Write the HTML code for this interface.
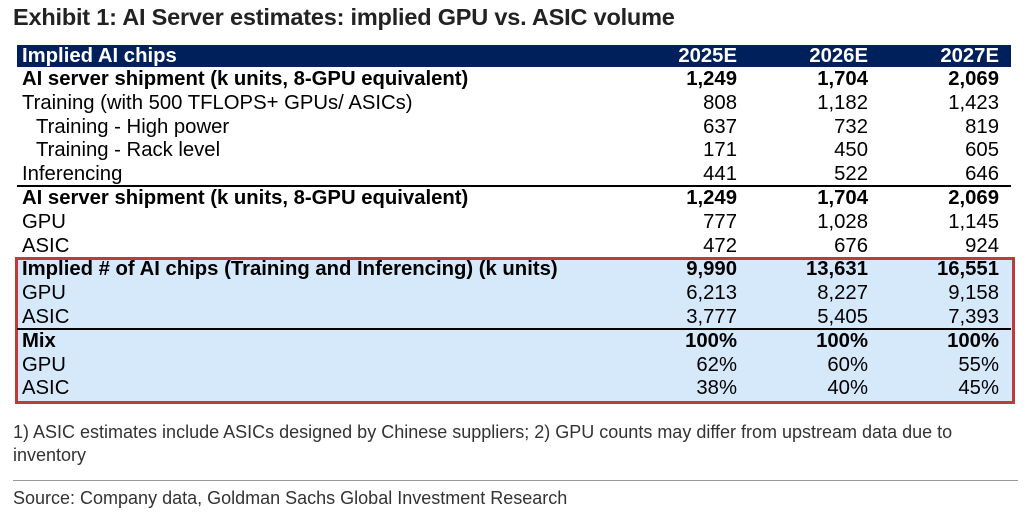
<!DOCTYPE html>
<html><head><meta charset="utf-8"><style>
body{margin:0;width:1031px;height:523px;background:#fff;position:relative;overflow:hidden;font-family:"Liberation Sans",Arial,sans-serif;color:#000}
.title{position:absolute;left:13px;top:4px;font-size:23.5px;font-weight:bold;color:#222;letter-spacing:-0.2px}
.hdr{position:absolute;left:17px;top:45px;width:994px;height:22px;background:#00205b}
.row{position:absolute;left:0;width:1031px;height:24px;font-size:20.3px;line-height:24px}
.row span{position:absolute;top:0}
.l{left:22px}.ind{left:36px}
.c1{right:294px}.c2{right:163px}.c3{right:32px}
.b{font-weight:bold}
.hdr-row{color:#fff;font-weight:bold;line-height:22px}
.blue{position:absolute;left:15px;top:257px;width:994px;height:141px;background:#d6e9fb;border:3px solid #c0393b}
.hl{position:absolute;left:17px;width:994px;height:2px;background:#000}
.foot{position:absolute;left:13px;font-size:18px;color:#333;line-height:23px}
.sep{position:absolute;left:13px;top:480px;width:1005px;height:1px;background:#999}
</style></head><body>
<div class="title">Exhibit 1: AI Server estimates: implied GPU vs. ASIC volume</div>
<div class="hdr"></div>
<div class="blue"></div>
<div class="hl" style="top:185px"></div>
<div class="hl" style="top:328px"></div>
<div id="rows"></div>
<div class="foot" style="top:421px;width:975px">1) ASIC estimates include ASICs designed by Chinese suppliers; 2) GPU counts may differ from upstream data due to inventory</div>
<div class="sep"></div>
<div class="foot" style="top:487px">Source: Company data, Goldman Sachs Global Investment Research</div>
<script>
const labels=["AI server shipment (k units, 8-GPU equivalent)","Training (with 500 TFLOPS+ GPUs/ ASICs)","Training - High power","Training - Rack level","Inferencing","AI server shipment (k units, 8-GPU equivalent)","GPU","ASIC","Implied # of AI chips (Training and Inferencing) (k units)","GPU","ASIC","Mix","GPU","ASIC"];
const v2025=["1,249","808","637","171","441","1,249","777","472","9,990","6,213","3,777","100%","62%","38%"];
const v2026=["1,704","1,182","732","450","522","1,704","1,028","676","13,631","8,227","5,405","100%","60%","40%"];
const v2027=["2,069","1,423","819","605","646","2,069","1,145","924","16,551","9,158","7,393","100%","55%","45%"];
const boldRows=[0,5,8,11];
const indentRows=[2,3];
const root=document.getElementById('rows');
function mk(cls,txt,parent){const s=document.createElement('span');s.className=cls;s.textContent=txt;parent.appendChild(s);return s;}
const h=document.createElement('div');h.className='row hdr-row';h.style.top='45px';h.style.height='22px';


mk('l','Implied AI chips',h);mk('c1','2025E',h);mk('c2','2026E',h);mk('c3','2027E',h);
root.appendChild(h);
labels.forEach((lab,i)=>{
 const r=document.createElement('div');
 r.className='row'+(boldRows.includes(i)?' b':'');
 r.style.top=(67+i*23.8)+'px';
 
 
 mk(indentRows.includes(i)?'ind':'l',lab,r);
 mk('c1',v2025[i],r);mk('c2',v2026[i],r);mk('c3',v2027[i],r);
 root.appendChild(r);
});
</script>
</body></html>
